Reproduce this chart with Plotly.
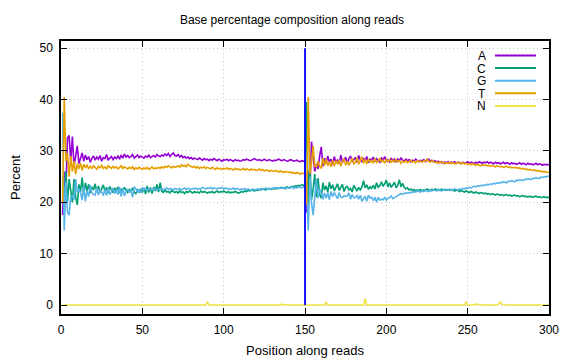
import plotly.graph_objects as go

positions = list(range(1, 301))

A = [
    17.5, 26.0, 22.0, 32.5, 33.0, 28.0, 32.8, 27.0, 29.0, 31.0,
    27.5, 28.5, 29.6, 28.0, 29.2, 28.3, 28.9, 27.8, 28.6, 29.0,
    28.2, 28.8, 28.4, 29.1, 28.0, 28.7, 28.5, 29.3, 28.2, 28.6,
    28.9, 28.3, 28.8, 28.5, 29.0, 28.4, 29.2, 28.6, 29.4, 28.8,
    29.1, 28.7, 28.9, 29.3, 28.6, 28.9, 29.2, 28.7, 29.0, 28.8,
    28.6, 29.0, 28.8, 29.2, 28.7, 28.9, 29.1, 28.8, 29.3, 29.0,
    28.9, 29.2, 29.0, 29.4, 29.1, 29.5, 28.9, 29.3, 29.6, 29.1,
    29.0, 29.3, 28.8, 29.1, 28.7, 28.9, 28.6, 28.8, 28.5, 28.7,
    28.4, 28.6, 28.5, 28.3, 28.6, 28.4, 28.2, 28.5, 28.3, 28.4,
    28.1, 28.4, 28.2, 28.5, 28.3, 28.1, 28.4, 28.2, 28.0, 28.3,
    28.2, 28.4, 28.1, 28.3, 28.2, 28.0, 28.3, 28.1, 28.2, 28.0,
    28.1, 28.3, 28.2, 28.4, 28.3, 28.1, 28.2, 28.4, 28.5, 28.3,
    28.2, 28.3, 28.1, 28.2, 28.4, 28.2, 28.1, 28.3, 28.2, 28.0,
    28.2, 28.1, 28.3, 28.4, 28.2, 28.1, 28.3, 28.2, 28.0, 28.1,
    28.3, 28.2, 28.0, 28.1, 28.2, 28.0, 27.9, 28.1, 28.0, 27.9,
    18.0, 26.0, 22.5, 31.8, 29.0, 26.0, 27.5, 26.5, 29.0, 30.8,
    27.0, 28.6, 27.6, 29.0, 27.8, 28.4, 27.3, 28.9, 27.7, 28.3,
    27.5, 29.2, 27.8, 28.1, 28.8, 27.6, 28.5, 29.0, 27.9, 28.3,
    28.7, 27.8, 29.1, 28.2, 27.9, 28.6, 28.0, 28.9, 27.7, 28.4,
    28.2, 28.8, 27.9, 28.5, 28.1, 27.8, 28.6, 28.2, 28.9, 28.0,
    28.3, 27.9, 28.6, 28.1, 28.4, 27.8, 28.5, 28.0, 28.7, 28.2,
    28.0, 28.4, 28.1, 28.3, 27.9, 28.2, 28.0, 28.4, 28.1, 27.9,
    28.2, 28.0, 28.3, 27.9, 28.1, 28.4, 28.0, 28.2, 27.9, 28.1,
    27.8, 28.0, 27.7, 27.9, 27.6, 27.8, 27.7, 27.9, 27.6, 27.8,
    27.7, 27.9, 27.6, 27.8, 27.7, 27.5, 27.8, 27.6, 27.7, 27.9,
    27.6, 27.8, 27.7, 27.5, 27.8, 27.6, 27.9, 27.7, 27.6, 27.8,
    27.7, 27.9, 27.6, 27.8, 27.7, 27.5, 27.8, 27.6, 27.7, 27.5,
    27.6, 27.8, 27.5, 27.7, 27.6, 27.4, 27.7, 27.5, 27.6, 27.4,
    27.5, 27.7, 27.4, 27.6, 27.5, 27.3, 27.6, 27.4, 27.5, 27.3,
    27.4, 27.6, 27.3, 27.5, 27.4, 27.2, 27.4, 27.3, 27.4, 27.2,
]

C = [
    25.0, 19.0, 26.0, 20.0, 24.5, 22.0, 20.0, 24.5, 21.0, 19.5,
    23.5, 22.0, 24.8, 21.5, 23.8, 22.2, 23.5, 21.8, 23.0, 22.4,
    23.6, 22.0, 23.2, 21.9, 22.8, 23.4, 22.1, 22.9, 21.8, 23.1,
    22.4, 21.9, 22.8, 22.2, 23.0, 21.8, 22.6, 22.0, 22.9, 22.3,
    21.9, 22.5, 22.1, 22.8, 22.0, 21.7, 22.4, 22.0, 22.6, 21.9,
    22.8, 21.6, 23.2, 21.9, 22.9, 21.7, 23.0, 22.2, 23.5, 22.0,
    23.8, 22.1, 21.9, 22.4, 22.0, 22.1, 21.8, 22.3, 22.0, 21.9,
    22.1, 21.8, 22.2, 21.9, 22.0, 21.7, 22.1, 21.9, 22.2, 22.0,
    21.8, 22.1, 21.9, 22.0, 21.8, 22.2, 21.9, 22.1, 22.0, 21.8,
    22.0, 21.9, 22.1, 21.8, 22.0, 22.2, 21.9, 22.1, 22.0, 22.2,
    22.0, 21.9, 22.1, 21.8, 22.0, 21.9, 22.1, 22.0, 21.8, 21.9,
    22.1, 22.0, 22.2, 22.1, 22.3, 22.2, 22.4, 22.3, 22.2, 22.4,
    22.3, 22.5, 22.4, 22.6, 22.5, 22.4, 22.6, 22.7, 22.5, 22.6,
    22.7, 22.6, 22.8, 22.7, 22.9, 22.8, 22.7, 22.9, 23.0, 22.8,
    22.9, 23.1, 23.0, 23.2, 23.1, 23.3, 23.2, 23.4, 23.3, 23.5,
    39.5, 19.0, 27.0, 20.5, 22.5, 25.5, 21.0, 24.7, 21.5, 20.8,
    23.8, 22.4, 23.2, 22.0, 23.9, 22.6, 23.4, 22.2, 22.9, 23.6,
    22.3, 22.8, 23.5, 22.1, 22.9, 23.1, 22.4, 22.7, 22.0, 23.3,
    22.6, 22.2, 22.9, 22.4, 23.0, 24.2, 22.8, 23.4, 22.5, 23.0,
    22.7, 23.3, 22.6, 23.8, 22.9, 23.2, 24.0, 23.1, 23.6, 24.3,
    23.0, 23.8, 22.9, 23.5, 23.9, 22.8, 23.3, 24.4, 23.0, 23.7,
    22.9, 22.6, 22.8, 22.4, 22.6, 22.3, 22.5, 22.2, 22.4, 22.3,
    22.5, 22.2, 22.4, 22.3, 22.6, 22.4, 22.3, 22.5, 22.4, 22.6,
    22.4, 22.5, 22.3, 22.6, 22.4, 22.5, 22.3, 22.4, 22.5, 22.3,
    22.4, 22.2, 22.4, 22.3, 22.1, 22.3, 22.2, 22.0, 22.2, 22.1,
    21.9, 22.1, 22.0, 21.8, 22.0, 21.9, 21.7, 21.9, 21.8, 21.7,
    21.8, 21.6, 21.7, 21.5, 21.7, 21.6, 21.4, 21.6, 21.5, 21.4,
    21.5, 21.3, 21.4, 21.5, 21.3, 21.4, 21.2, 21.3, 21.4, 21.2,
    21.3, 21.1, 21.2, 21.3, 21.1, 21.2, 21.0, 21.2, 21.1, 21.0,
    21.1, 21.2, 21.0, 21.1, 20.9, 21.0, 21.1, 20.9, 21.0, 20.9,
]

G = [
    37.5, 14.5, 24.0, 18.0, 17.5, 21.0, 21.2, 20.5, 24.5, 22.0,
    22.5, 21.9, 20.4, 23.1, 20.2, 22.3, 21.1, 23.4, 21.8, 21.5,
    21.4, 22.8, 21.4, 22.3, 22.0, 21.3, 22.5, 21.3, 22.9, 21.5,
    22.1, 22.8, 21.7, 22.4, 21.5, 23.0, 21.1, 22.8, 21.2, 22.2,
    22.5, 22.0, 22.4, 21.0, 23.0, 22.7, 21.9, 22.5, 21.8, 22.9,
    22.4, 22.7, 22.3, 22.6, 22.5, 22.4, 22.7, 22.5, 22.3, 22.6,
    22.5, 22.7, 22.4, 22.6, 22.8, 22.5, 22.7, 22.6, 22.4, 22.7,
    22.6, 22.5, 22.7, 22.4, 22.6, 22.8, 22.5, 22.7, 22.6, 22.5,
    22.7, 22.6, 22.8, 22.5, 22.7, 22.6, 22.9, 22.7, 22.6, 22.8,
    22.7, 22.9, 22.6, 22.8, 22.7, 22.6, 22.8, 22.7, 22.9, 22.6,
    22.8, 22.6, 22.7, 22.5, 22.6, 22.8, 22.5, 22.7, 22.6, 22.4,
    22.6, 22.5, 22.7, 22.4, 22.6, 22.5, 22.3, 22.6, 22.4, 22.5,
    22.6, 22.4, 22.7, 22.5, 22.6, 22.8, 22.5, 22.7, 22.6, 22.8,
    22.7, 22.9, 22.6, 22.8, 22.7, 22.9, 22.8, 22.6, 22.9, 22.7,
    22.8, 23.0, 22.7, 22.9, 22.8, 23.0, 22.9, 22.8, 23.0, 22.9,
    23.0, 14.5, 25.0, 20.0, 17.5, 21.5, 24.5, 20.8, 22.5, 21.8,
    20.6, 21.8, 20.8, 21.9, 20.5, 22.1, 21.1, 21.9, 21.3, 20.7,
    21.9, 21.0, 20.9, 21.3, 21.1, 21.3, 21.8, 20.6, 21.5, 20.9,
    20.9, 21.3, 20.6, 21.4, 20.2, 20.6, 21.2, 20.2, 21.4, 20.8,
    21.0, 20.3, 21.0, 20.0, 21.0, 20.4, 20.6, 20.5, 20.9, 20.4,
    20.8, 20.9, 21.2, 20.7, 21.0, 21.1, 21.3, 21.5, 21.7, 21.5,
    21.8, 21.7, 21.9, 21.8, 22.0, 21.9, 22.1, 22.0, 22.2, 22.1,
    22.0, 22.2, 22.1, 22.3, 22.2, 22.1, 22.3, 22.2, 22.4, 22.3,
    22.2, 22.4, 22.3, 22.2, 22.4, 22.3, 22.5, 22.4, 22.3, 22.5,
    22.4, 22.6, 22.5, 22.4, 22.6, 22.5, 22.7, 22.6, 22.8, 22.7,
    22.9, 22.8, 23.0, 23.1, 23.0, 23.2, 23.1, 23.3, 23.2, 23.4,
    23.3, 23.5, 23.4, 23.6, 23.5, 23.7, 23.6, 23.8, 23.7, 23.9,
    23.8, 24.0, 23.9, 23.8, 24.1, 24.0, 24.2, 24.1, 24.0, 24.3,
    24.2, 24.4, 24.3, 24.2, 24.5, 24.4, 24.6, 24.5, 24.4, 24.7,
    24.6, 24.8, 24.7, 24.6, 24.9, 24.8, 25.0, 24.9, 25.1, 25.0,
]

T = [
    20.0, 40.5, 28.0, 29.5, 25.0, 29.0, 26.0, 28.0, 25.5, 27.5,
    26.5, 27.6, 26.2, 27.4, 26.8, 27.2, 26.5, 27.0, 26.6, 27.1,
    26.8, 26.4, 27.0, 26.7, 27.2, 26.6, 26.9, 26.5, 27.1, 26.8,
    26.6, 27.0, 26.7, 26.9, 26.5, 26.8, 27.1, 26.6, 26.9, 26.7,
    26.5, 26.8, 26.6, 26.9, 26.4, 26.7, 26.5, 26.8, 26.6, 26.4,
    26.7, 26.5, 26.8, 26.4, 26.6, 26.9, 26.5, 26.7, 26.6, 26.8,
    26.6, 26.9, 26.7, 27.0, 26.8, 27.1, 26.9, 26.7, 27.0, 26.8,
    26.9, 27.1, 26.8, 27.3, 27.0, 27.2, 26.9, 27.4, 27.1, 26.9,
    26.8, 27.0, 26.7, 26.9, 26.6, 26.8, 26.7, 26.9, 26.6, 26.8,
    26.7, 26.5, 26.8, 26.6, 26.4, 26.7, 26.5, 26.6, 26.4, 26.6,
    26.5, 26.7, 26.4, 26.6, 26.5, 26.3, 26.6, 26.4, 26.5, 26.3,
    26.4, 26.6, 26.3, 26.5, 26.4, 26.2, 26.5, 26.3, 26.4, 26.2,
    26.3, 26.5, 26.2, 26.4, 26.1, 26.3, 26.2, 26.0, 26.2, 26.1,
    26.0, 26.2, 26.1, 25.9, 26.1, 26.0, 25.8, 26.0, 25.9, 25.8,
    25.9, 25.7, 25.8, 25.6, 25.8, 25.7, 25.5, 25.7, 25.6, 25.5,
    19.5, 40.5, 25.5, 27.7, 31.0, 27.0, 27.0, 28.0, 27.0, 26.6,
    28.6, 27.2, 28.4, 27.1, 27.9, 26.9, 28.2, 27.0, 28.1, 27.4,
    28.3, 27.0, 27.8, 28.5, 27.2, 28.0, 27.3, 27.7, 28.6, 27.5,
    27.8, 28.7, 27.4, 28.0, 28.9, 27.6, 28.3, 27.5, 28.4, 27.8,
    28.1, 27.6, 28.5, 27.7, 28.0, 28.6, 27.8, 28.2, 27.6, 28.3,
    27.9, 28.4, 27.7, 28.2, 27.8, 28.3, 27.9, 28.1, 27.6, 28.0,
    27.8, 28.1, 27.7, 27.9, 28.2, 27.8, 28.0, 27.7, 28.1, 27.9,
    28.0, 27.8, 28.1, 27.9, 28.4, 28.0, 27.8, 28.1, 27.9, 27.7,
    27.8, 27.6, 27.9, 27.7, 27.8, 27.5, 27.7, 27.6, 27.8, 27.6,
    27.7, 27.5, 27.6, 27.8, 27.6, 27.5, 27.7, 27.5, 27.6, 27.4,
    27.5, 27.3, 27.5, 27.4, 27.2, 27.4, 27.3, 27.1, 27.3, 27.2,
    27.3, 27.1, 27.2, 27.0, 27.2, 27.1, 26.9, 27.1, 27.0, 26.9,
    27.0, 26.8, 26.9, 27.0, 26.8, 26.9, 26.7, 26.8, 26.7, 26.8,
    26.6, 26.7, 26.5, 26.6, 26.4, 26.5, 26.3, 26.4, 26.3, 26.2,
    26.3, 26.1, 26.2, 26.0, 26.1, 25.9, 26.0, 25.9, 25.8, 25.9,
]

# 10 rows of 30 positions each (1-30, 31-60, ..., 271-300)
N = [
    0, 0, 0, 0, 0, 0, 0, 0, 0, 0, 0, 0, 0, 0, 0, 0, 0, 0, 0, 0, 0, 0, 0, 0, 0, 0, 0, 0, 0, 0,
    0, 0, 0, 0, 0, 0, 0, 0, 0, 0, 0, 0, 0, 0, 0, 0, 0, 0, 0, 0, 0, 0, 0, 0, 0, 0, 0, 0, 0, 0,
    0, 0, 0, 0, 0, 0, 0, 0, 0, 0, 0, 0, 0, 0, 0, 0, 0, 0, 0, 0, 0, 0, 0, 0, 0, 0, 0, 0, 0, 0.6,
    0, 0, 0, 0, 0, 0, 0, 0, 0, 0, 0, 0, 0, 0, 0, 0, 0, 0, 0, 0, 0, 0, 0, 0, 0, 0, 0, 0, 0, 0,
    0, 0, 0, 0, 0, 0, 0, 0, 0, 0, 0, 0, 0, 0, 0.15, 0.1, 0, 0, 0, 0, 0, 0, 0, 0, 0, 0, 0, 0, 0, 0,
    0, 0, 0, 0, 0, 0, 0, 0, 0, 0, 0, 0, 0.5, 0, 0, 0, 0, 0, 0, 0, 0, 0, 0, 0, 0, 0, 0, 0, 0, 0,
    0, 0, 0, 0, 0, 0, 1.2, 0, 0, 0, 0, 0, 0, 0, 0, 0, 0, 0, 0, 0, 0, 0, 0, 0, 0, 0, 0, 0, 0, 0,
    0, 0, 0, 0, 0, 0, 0, 0, 0, 0, 0, 0, 0, 0, 0, 0, 0, 0, 0, 0, 0, 0, 0, 0, 0, 0, 0, 0, 0, 0,
    0, 0, 0, 0, 0, 0, 0, 0, 0.5, 0, 0, 0, 0, 0, 0.2, 0.15, 0, 0, 0, 0, 0, 0, 0, 0, 0, 0, 0, 0, 0.15, 0.6,
    0.15, 0.15, 0.1, 0, 0, 0, 0, 0, 0, 0, 0, 0, 0, 0, 0, 0, 0, 0, 0, 0, 0, 0, 0, 0, 0, 0, 0, 0, 0, 0,
]

series_names = ["A", "C", "G", "T", "N"]
series_values = [A, C, G, T, N]
series_colors = ["#9400D3", "#009E73", "#56B4E9", "#E69F00", "#F0E442"]

read_boundary = 150
boundary_span = [0, 50]

title_text = "Base percentage composition along reads"
x_label = "Position along reads"
y_label = "Percent"
x_ticks = [0, 50, 100, 150, 200, 250, 300]
y_ticks = [0, 10, 20, 30, 40, 50]

# the page body adds an 8px margin, so the figure is laid out 8px smaller/shifted
OFF = 8
W, H = 576 - OFF, 360 - OFF
L, R, TOP, B = 61 - OFF, 549 - OFF, 41 - OFF, 314 - OFF

FONT = "Liberation Sans, Arial, sans-serif"

fig = go.Figure()
for name, vals, col in zip(series_names, series_values, series_colors):
    fig.add_trace(go.Scatter(x=positions[:len(vals)], y=vals, mode="lines", name=name,
                             line=dict(color=col, width=1.6), showlegend=False))

fig.add_trace(go.Scatter(x=[read_boundary, read_boundary], y=boundary_span, mode="lines",
                         line=dict(color="#0000FF", width=1.8), showlegend=False))

def px_x(p):
    return (p - OFF - L) / (R - L)

def px_y(p):
    return 1 - (p - OFF - TOP) / (B - TOP)

# gnuplot-style key: label on the left, sample line on the right
key_y0, key_dy = 55.5, 12.6
for i, (name, col) in enumerate(zip(series_names, series_colors)):
    yy = px_y(key_y0 + i * key_dy)
    fig.add_annotation(x=px_x(487), y=yy, xref="paper", yref="paper", text=name,
                       showarrow=False, xanchor="right", yanchor="middle",
                       height=11, borderpad=0, valign="middle",
                       font=dict(family=FONT, size=12, color="black"))
    fig.add_shape(type="line", xref="paper", yref="paper", x0=px_x(495), x1=px_x(536),
                  y0=yy, y1=yy, line=dict(color=col, width=2))

axis_common = dict(showline=True, linecolor="black", linewidth=1.5, mirror="ticks",
                   ticks="inside", ticklen=6, tickcolor="black", tickwidth=1,
                   showgrid=True, gridcolor="#c4c4c4", griddash="1px,3px", gridwidth=1,
                   zeroline=False, automargin=False,
                   tickfont=dict(family=FONT, size=12, color="black"))

fig.update_layout(
    width=W, height=H,
    margin=dict(l=L, r=W - R, t=TOP, b=H - B),
    plot_bgcolor="white", paper_bgcolor="white",
    title=dict(text=title_text, x=0.5, xanchor="center", y=1 - (20 - OFF) / H, yanchor="middle",
               yref="container", font=dict(family=FONT, size=12, color="black")),
    xaxis=dict(range=[0, 300], tickvals=x_ticks, ticklabelstandoff=4,
               title=dict(text=x_label, standoff=10, font=dict(family=FONT, size=13, color="black")),
               **axis_common),
    yaxis=dict(range=[-1.75, 51.4], tickvals=y_ticks, ticklabelstandoff=4,
               title=dict(text=y_label, standoff=17, font=dict(family=FONT, size=13, color="black")),
               **axis_common),
)

fig.write_html("out.html")
